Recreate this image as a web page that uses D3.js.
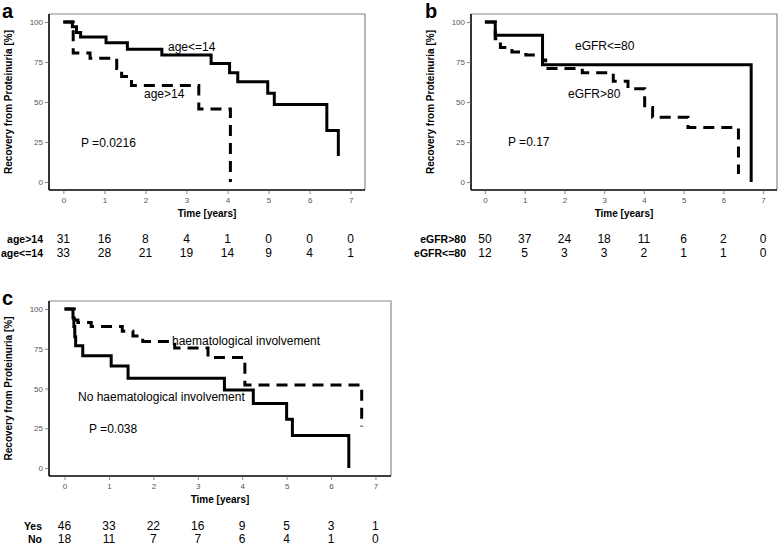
<!DOCTYPE html>
<html>
<head>
<meta charset="utf-8">
<script src="https://cdn.jsdelivr.net/npm/d3@7"></script>
<style>
  html, body { margin: 0; padding: 0; background: #fff; }
  svg { display: block; }
  text { font-family: "Liberation Sans", Arial, Helvetica, sans-serif; }
</style>
</head>
<body>
<script>
// ---------------- DATA ----------------
const timeTicks = [0, 1, 2, 3, 4, 5, 6, 7];
const survTicks = [0, 25, 50, 75, 100];

// Panel a : age
const ageLe14Curve = [[0,100],[0.22,97],[0.32,93.5],[0.42,90.6],[1.04,87],[1.56,83],[2.4,79.4],[3.6,74],[4.05,68.3],[4.25,62.6],[4.98,55.4],[5.14,48.4],[6.42,32.2],[6.7,16.2]];
const ageGt14Curve = [[0,100],[0.24,80.6],[0.65,77.4],[1.3,71],[1.42,66],[1.66,60.3],[3.3,45.7],[4.07,0]];
const ageGt14Risk = [31, 16, 8, 4, 1, 0, 0, 0];
const ageLe14Risk = [33, 28, 21, 19, 14, 9, 4, 1];

// Panel b : eGFR
const eGFRle80Curve = [[0,100],[0.26,91.7],[1.45,73.3],[6.7,0]];
const eGFRgt80Curve = [[0,100],[0.26,89.6],[0.39,84],[0.68,81.3],[1.03,79.3],[1.45,76.3],[1.53,71],[2.45,68.3],[3.23,63],[3.6,58.3],[4.02,46.6],[4.22,40.5],[5.11,34],[6.38,5]];
const eGFRgt80Risk = [50, 37, 24, 18, 11, 6, 2, 0];
const eGFRle80Risk = [12, 5, 3, 3, 2, 1, 1, 0];

// Panel c : haematological involvement
const haemNoCurve = [[0,100],[0.19,94.4],[0.21,88.9],[0.23,82.5],[0.25,76.9],[0.41,70.6],[1.05,64.1],[1.43,56.4],[3.6,49],[4.25,40.5],[5.0,30.7],[5.13,20.4],[6.4,0]];
const haemYesCurve = [[0,100],[0.22,93],[0.3,91.5],[0.6,89],[1.3,86],[1.54,83],[1.76,79.5],[2.48,75.5],[3.23,69.5],[4.06,52.2],[6.69,26.1]];
const haemYesRisk = [46, 33, 22, 16, 9, 5, 3, 1];
const haemNoRisk = [18, 11, 7, 7, 6, 4, 1, 0];

const yTitle = "Recovery from Proteinuria [%]";
const xTitle = "Time [years]";

// ---------------- DRAW ----------------
const W = 778, H = 544;
const svg = d3.select("body").append("svg").attr("width", W).attr("height", H);

function panel(cfg) {
  const g = svg.append("g");
  const x = d3.scaleLinear().domain([-0.35, 7.35]).range([cfg.left, cfg.right]);
  const y = d3.scaleLinear().domain([-5, 105]).range([cfg.bottom, cfg.top]);

  // top/right frame (grey)
  g.append("path")
    .attr("d", `M${cfg.left},${cfg.top}H${cfg.right}V${cfg.bottom}`)
    .attr("fill", "none").attr("stroke", "#8a8a8a").attr("stroke-width", 1.2);

  // axes
  const xAxis = d3.axisBottom(x).tickValues(timeTicks).tickSize(4).tickPadding(3).tickSizeOuter(0);
  const yAxis = d3.axisLeft(y).tickValues(survTicks).tickSize(4).tickPadding(2).tickSizeOuter(0);
  const gx = g.append("g").attr("transform", `translate(0,${cfg.bottom})`).call(xAxis);
  const gy = g.append("g").attr("transform", `translate(${cfg.left},0)`).call(yAxis);
  [gx, gy].forEach(a => {
    a.select(".domain").attr("stroke", "#000").attr("stroke-width", 1.6);
    a.selectAll(".tick line").attr("stroke", "#666").attr("stroke-width", 0.8);
    a.selectAll(".tick text").attr("fill", "#555").style("font-size", "8px")
      .style("font-family", '"Liberation Sans", Arial, sans-serif');
  });
  gy.select(".domain").attr("d", `M0,${cfg.top}V${cfg.bottom}`);
  gx.select(".domain").attr("d", `M${cfg.left},0H${cfg.right}`);

  // titles
  g.append("text").attr("x", (cfg.left + cfg.right) / 2).attr("y", cfg.bottom + 27)
    .attr("text-anchor", "middle").style("font-size", "10px").style("font-weight", "bold").text(xTitle);
  g.append("text")
    .attr("transform", `translate(${cfg.left - 41},${(cfg.top + cfg.bottom) / 2}) rotate(-90)`)
    .attr("text-anchor", "middle").attr("dominant-baseline", "central")
    .style("font-size", "10px").style("font-weight", "bold").text(yTitle);

  // panel letter
  g.append("text").attr("x", cfg.letterX).attr("y", cfg.top + 4.3)
    .style("font-size", "20px").style("font-weight", "bold").text(cfg.letter);

  // curves
  const line = d3.line().x(d => x(d[0])).y(d => y(d[1])).curve(d3.curveStepAfter);
  cfg.curves.forEach(c => {
    g.append("path").datum(c.data).attr("d", line)
      .attr("fill", "none").attr("stroke", "#000").attr("stroke-width", 3)
      .attr("stroke-linejoin", "miter")
      .attr("stroke-dasharray", c.dashed ? "11,7" : null);
  });

  // in-plot labels
  cfg.labels.forEach(l => {
    g.append("text").attr("x", l.x).attr("y", l.y).style("font-size", "12px").text(l.t);
  });

  // risk table
  cfg.risk.forEach((r, i) => {
    const yy = cfg.riskY[i];
    g.append("text").attr("x", cfg.riskLabelX).attr("y", yy).attr("text-anchor", "end")
      .style("font-size", "10.5px").style("font-weight", "bold").text(r.name);
    g.selectAll(null).data(r.vals).enter().append("text")
      .attr("x", (d, j) => x(timeTicks[j])).attr("y", yy).attr("text-anchor", "middle")
      .style("font-size", "12px").text(d => d);
  });
}

panel({
  left: 49, right: 365, top: 14, bottom: 190, letter: "a", letterX: 2,
  curves: [{data: ageLe14Curve, dashed: false}, {data: ageGt14Curve, dashed: true}],
  labels: [{x: 168, y: 51, t: "age<=14"}, {x: 144, y: 98, t: "age>14"}, {x: 81, y: 147, t: "P =0.0216"}],
  risk: [{name: "age>14", vals: ageGt14Risk}, {name: "age<=14", vals: ageLe14Risk}],
  riskY: [242.5, 256.5], riskLabelX: 43
});

panel({
  left: 471, right: 777, top: 14, bottom: 190, letter: "b", letterX: 425,
  curves: [{data: eGFRle80Curve, dashed: false}, {data: eGFRgt80Curve, dashed: true}],
  labels: [{x: 575, y: 50, t: "eGFR<=80"}, {x: 568, y: 98, t: "eGFR>80"}, {x: 508, y: 146, t: "P =0.17"}],
  risk: [{name: "eGFR>80", vals: eGFRgt80Risk}, {name: "eGFR<=80", vals: eGFRle80Risk}],
  riskY: [242.5, 256.5], riskLabelX: 466
});

panel({
  left: 49, right: 391, top: 301, bottom: 476, letter: "c", letterX: 2,
  curves: [{data: haemNoCurve, dashed: false}, {data: haemYesCurve, dashed: true}],
  labels: [{x: 172, y: 345, t: "haematological involvement"}, {x: 78, y: 401, t: "No haematological involvement"}, {x: 89, y: 433, t: "P =0.038"}],
  risk: [{name: "Yes", vals: haemYesRisk}, {name: "No", vals: haemNoRisk}],
  riskY: [529.5, 542.5], riskLabelX: 42
});
</script>
</body>
</html>
